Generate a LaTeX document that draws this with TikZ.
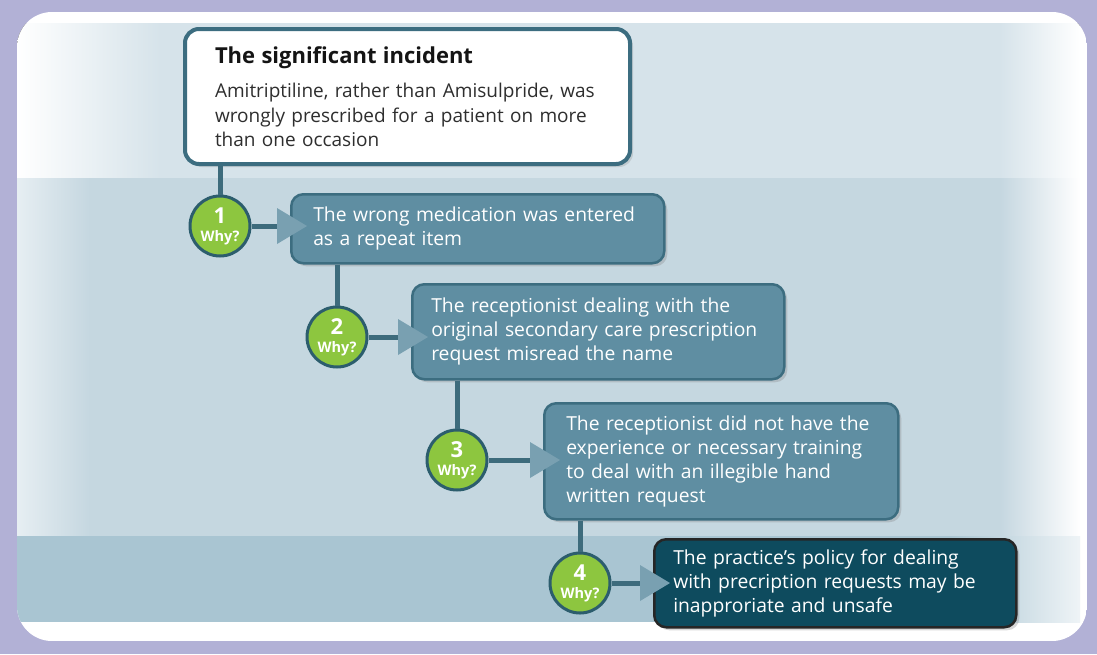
\documentclass[tikz,border=0pt]{standalone}
\usepackage{fontspec}
\setmainfont{Open Sans}
\usetikzlibrary{arrows.meta,shadows}
\definecolor{lavender}{HTML}{B2B1D6}
\definecolor{bandA}{HTML}{D6E3EA}
\definecolor{bandB}{HTML}{C5D7E0}
\definecolor{bandC}{HTML}{A9C5D2}
\definecolor{boxfill}{HTML}{5F8EA2}
\definecolor{boxline}{HTML}{3C6D80}
\definecolor{darkfill}{HTML}{0E4B5E}
\definecolor{whygreen}{HTML}{8DC63F}
\definecolor{circline}{HTML}{2C5D6D}
\definecolor{linkc}{HTML}{3D6B7C}
\definecolor{arrowc}{HTML}{79A0B1}
\definecolor{bodytext}{HTML}{2E2E2E}

\begin{document}
\begin{tikzpicture}[x=1pt,y=-1pt,
    topbox/.style={draw=boxline,line width=4pt,fill=white,rounded corners=14pt,anchor=north west,
      align=left,inner xsep=30pt,text width=385pt,minimum height=135pt,text=bodytext,
      font=\fontsize{19}{24.5}\selectfont,
      drop shadow={shadow xshift=3pt,shadow yshift=-3pt,opacity=.25}},
    whybox/.style={draw=boxline,line width=2.5pt,fill=boxfill,rounded corners=12pt,text=white,
      align=left,anchor=north west,inner xsep=22pt,inner ysep=3pt,
      font=\fontsize{19.3}{24}\selectfont,
      drop shadow={shadow xshift=3pt,shadow yshift=-3pt,opacity=.3}},
    why/.style={circle,draw=circline,line width=3pt,fill=whygreen,minimum size=60pt,inner sep=0pt,
      text=white,font=\bfseries},
    link/.style={draw=linkc,line width=5pt},
    tip/.style={-{Triangle[length=30pt,width=36pt,line width=0pt,color=arrowc,fill=arrowc]},shorten >=-17pt}]
    \newcommand\whylabel[1]{\shortstack{{\fontsize{22}{22}\selectfont #1}\\[4pt]{\fontsize{14.5}{15}\selectfont Why?}}}
    \useasboundingbox (0,0) rectangle (1097,654);
    \fill[lavender] (0,0) rectangle (1097,654);
    \begin{scope}
        \clip[rounded corners=35pt] (17,12) rectangle (1087,641);
        \fill[white] (17,12) rectangle (1087,641);
        \fill[left color=white,right color=bandA] (17,23) rectangle (160,178);
        \fill[bandA] (159,23) rectangle (1001,178);
        \fill[left color=bandA,right color=white] (1000,23) rectangle (1080,178);
        \fill[left color=bandA!60!white,right color=bandB] (17,178) rectangle (90,536);
        \fill[bandB] (89,178) rectangle (1001,536);
        \fill[left color=bandB,right color=white] (1000,178) rectangle (1080,536);
        \fill[bandC] (17,536) rectangle (951,622);
        \fill[left color=bandC,right color=bandA!40!white] (950,536) rectangle (1080,622);
    \end{scope}

    \node[topbox] (top) at (183,27) {{\fontsize{22}{24}\selectfont\bfseries\color{black!92}The significant incident}\\[10pt]
        Amitriptiline, rather than Amisulpride, was\\ wrongly prescribed for a patient on more\\ than one occasion};
    \node[whybox,text width=329pt,minimum height=69pt] (b1) at (290,193) {The wrong medication was entered\\ as a repeat item};
    \node[whybox,inner xsep=19pt,text width=334pt,minimum height=95pt] (b2) at (411,283) {The receptionist dealing with the\\ original secondary care prescription\\ request misread the name};
    \node[whybox,text width=310pt,minimum height=116pt] (b3) at (543,402) {The receptionist did not have the\\ experience or necessary training\\ to deal with an illegible hand\\ written request};
    \node[whybox,draw=black!85,fill=darkfill,inner xsep=19pt,text width=324pt,minimum height=88pt] (b4) at (653,538) {The practice’s policy for dealing\\ with precription requests may be\\ inapproriate and unsafe};

    \node[why] (c1) at (220,226) {\whylabel{1}};
    \node[why] (c2) at (337,337) {\whylabel{2}};
    \node[why] (c3) at (457,460) {\whylabel{3}};
    \node[why] (c4) at (580,583) {\whylabel{4}};

    \draw[link] (top.south -| c1) -- (c1.north);
    \draw[link] (b1.south -| c2) -- (c2.north);
    \draw[link] (b2.south -| c3) -- (c3.north);
    \draw[link] (b3.south -| c4) -- (c4.north);
    \draw[link,tip] (c1.east) -- (c1 -| b1.west);
    \draw[link,tip] (c2.east) -- (c2 -| b2.west);
    \draw[link,tip] (c3.east) -- (c3 -| b3.west);
    \draw[link,tip] (c4.east) -- (c4 -| b4.west);
\end{tikzpicture}
\end{document}
